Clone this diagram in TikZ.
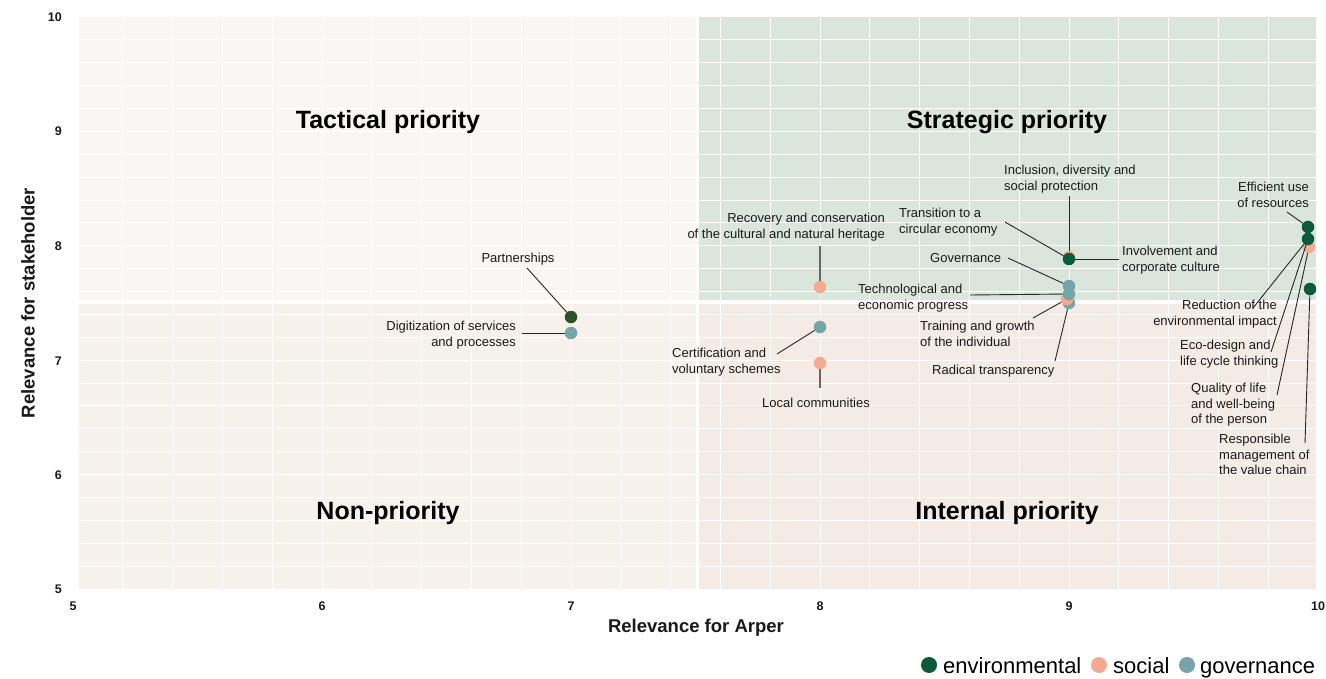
\documentclass[tikz,border=0pt]{standalone}
\usepackage{fontspec}
\setmainfont{Liberation Sans}
\definecolor{envc}{HTML}{0B5A3B}
\definecolor{partc}{HTML}{2D5128}
\definecolor{socc}{HTML}{F3AA90}
\definecolor{govc}{HTML}{75A5AA}
\definecolor{bgTL}{HTML}{F8F7F5}
\definecolor{bgTR}{HTML}{DAE6DC}
\definecolor{bgBL}{HTML}{F6F1EB}
\definecolor{bgBR}{HTML}{F4EBE4}
\definecolor{txt}{HTML}{1A1A1A}
\begin{document}
\begin{tikzpicture}[x=1pt,y=-1pt,
  lab/.style={font=\fontsize{13}{15.5}\selectfont, text=txt, inner sep=0pt},
  quad/.style={font=\bfseries\fontsize{25}{30}\selectfont, text=black},
  tick/.style={font=\bfseries\fontsize{12.5}{14}\selectfont, text=txt, inner sep=0pt},
  axtitle/.style={font=\bfseries\fontsize{18.5}{22}\selectfont, text=txt, inner sep=0pt},
  legtext/.style={font=\fontsize{22}{26}\selectfont, text=black, inner sep=0pt, anchor=base west},
  dot/.style={circle, minimum size=12.5pt, inner sep=0pt},
  env/.style={dot, fill=envc}, part/.style={dot, fill=partc},
  soc/.style={dot, fill=socc}, gov/.style={dot, fill=govc},
  legdot/.style={circle, minimum size=16pt, inner sep=0pt},
  lead/.style={draw=black!85, line width=0.9pt},
  vlead/.style={draw=black!60, line width=1.6pt},
  gridline/.style={draw=white, line width=1pt},
  divider/.style={draw=white, line width=3pt}]
\useasboundingbox (0,0) rectangle (1326,679);
\fill[white] (0,0) rectangle (1326,679);
% quadrant backgrounds
\fill[bgTL] (79,17) rectangle (697,302);
\fill[bgTR] (697,17) rectangle (1316,302);
\fill[bgBL] (79,302) rectangle (697,589);
\fill[bgBR] (697,302) rectangle (1316,589);
% grid
\foreach \i in {1,...,24} {\draw[gridline] ({73+49.8*\i},17) -- ({73+49.8*\i},589);}
\foreach \j in {1,...,24} {\draw[gridline] (79,{17+22.88*\j}) -- (1316,{17+22.88*\j});}
\draw[divider] (697,17) -- (697,589);
\draw[divider] (79,302) -- (1316,302);
% quadrant titles
\node[quad] (qtl) at (388,122) {Tactical priority};
\node[quad] (qtr) at (1007,122) {Strategic priority};
\node[quad] (qbl) at (388,513) {Non-priority};
\node[quad] (qbr) at (1007,513) {Internal priority};
% ticks
\foreach \v/\px in {5/73,6/322,7/571,8/820,9/1069,10/1318} {\node[tick] (xt\v) at (\px,606) {\v};}
\foreach \v/\py in {10/17,9/131,8/246,7/361,6/475,5/589} {\node[tick, anchor=east] (yt\v) at (62,\py) {\v};}
\node[axtitle] (xtitle) at (696,628) {Relevance for Arper};
\node[axtitle, rotate=90] (ytitle) at (28,303) {Relevance for stakeholder};
% dots
\node[part] (dpart) at (571,317) {};
\node[gov] (ddigit) at (571,333) {};
\node[soc] (drecov) at (820,287) {};
\node[gov] (dcert) at (820,327) {};
\node[soc] (dlocal) at (820,363) {};
\node[soc] (dincl) at (1069,257) {};
\node[env] (dtrans) at (1069,259) {};
\node[gov] (dradical) at (1069,303) {};
\node[soc] (dtrain) at (1067,299) {};
\node[gov] (dtech) at (1069,294) {};
\node[gov] (dgovern) at (1069,286) {};
\node[env] (dresp) at (1310,289) {};
\node[soc] (dquality) at (1309,247) {};
\node[env] (dreduc) at (1308,239) {};
\node[env] (deffic) at (1308,227) {};
% labels
\node[lab, anchor=north] (lpart) at (518,253) {Partnerships};
\node[lab, anchor=north east, align=right] (ldigit) at (516,321) {Digitization of services\\and processes};
\node[lab, anchor=north east, align=right] (lrecov) at (885,213) {Recovery and conservation\\of the cultural and natural heritage};
\node[lab, anchor=north west, align=left] (lcert) at (672,348) {Certification and\\voluntary schemes};
\node[lab, anchor=north] (llocal) at (816,398) {Local communities};
\node[lab, anchor=north west, align=left] (lincl) at (1004,165) {Inclusion, diversity and\\social protection};
\node[lab, anchor=north west, align=left] (ltrans) at (899,208) {Transition to a\\circular economy};
\node[lab, anchor=north west] (lgovern) at (930,253) {Governance};
\node[lab, anchor=north west, align=left] (linvol) at (1122,246) {Involvement and\\corporate culture};
\node[lab, anchor=north west, align=left] (ltech) at (858,284) {Technological and\\economic progress};
\node[lab, anchor=north west, align=left] (ltrain) at (920,321) {Training and growth\\of the individual};
\node[lab, anchor=north west] (lradical) at (932,365) {Radical transparency};
\node[lab, anchor=north east, align=right] (leffic) at (1309,182) {Efficient use\\of resources};
\node[lab, anchor=north east, align=right] (lreduc) at (1277,300) {Reduction of the\\environmental impact};
\node[lab, anchor=north west, align=left] (leco) at (1180,340) {Eco-design and\\life cycle thinking};
\node[lab, anchor=north west, align=left] (lquality) at (1191,383) {Quality of life\\and well-being\\of the person};
\node[lab, anchor=north west, align=left] (lresp) at (1219,434) {Responsible\\management of\\the value chain};
% leader start points
\coordinate (cpart) at (527,268);
\coordinate (cdigit) at (522,333);
\coordinate (crecov) at (820,246);
\coordinate (ccert) at (777,354);
\coordinate (clocal) at (820,388);
\coordinate (cincl) at (1069,196);
\coordinate (ctrans) at (1005,222);
\coordinate (cinvol) at (1119,259);
\coordinate (cgovern) at (1008,258);
\coordinate (ctech) at (970,295);
\coordinate (ctrain) at (1033,318);
\coordinate (cradical) at (1055,361);
\coordinate (ceffic) at (1287,212);
\coordinate (creduc) at (1253,308);
\coordinate (ceco) at (1271,352);
\coordinate (cquality) at (1277,395);
\coordinate (cresp) at (1305,443);
% leaders
\draw[lead] (cpart) -- (dpart);
\draw[lead] (cdigit) -- (ddigit);
\draw[vlead] (crecov) -- (drecov);
\draw[lead] (ccert) -- (dcert);
\draw[vlead] (clocal) -- (dlocal);
\draw[lead] (cincl) -- (dincl);
\draw[lead] (ctrans) -- (dtrans);
\draw[lead] (cinvol) -- (dtrans);
\draw[lead] (cgovern) -- (dgovern);
\draw[lead] (ctech) -- (dtech);
\draw[lead] (ctrain) -- (dtrain);
\draw[lead] (cradical) -- (dradical);
\draw[lead] (ceffic) -- (deffic);
\draw[lead] (creduc) -- (dreduc);
\draw[lead] (ceco) -- (dreduc);
\draw[lead] (cquality) -- (dquality);
\draw[lead] (cresp) -- (dresp);
% legend
\node[legdot, fill=envc] (legenv) at (929,665) {};
\node[legtext] (legenvt) at (943,673) {environmental};
\node[legdot, fill=socc] (legsoc) at (1099,665) {};
\node[legtext] (legsoct) at (1113,673) {social};
\node[legdot, fill=govc] (leggov) at (1187,665) {};
\node[legtext] (leggovt) at (1200,673) {governance};
\end{tikzpicture}
\end{document}
